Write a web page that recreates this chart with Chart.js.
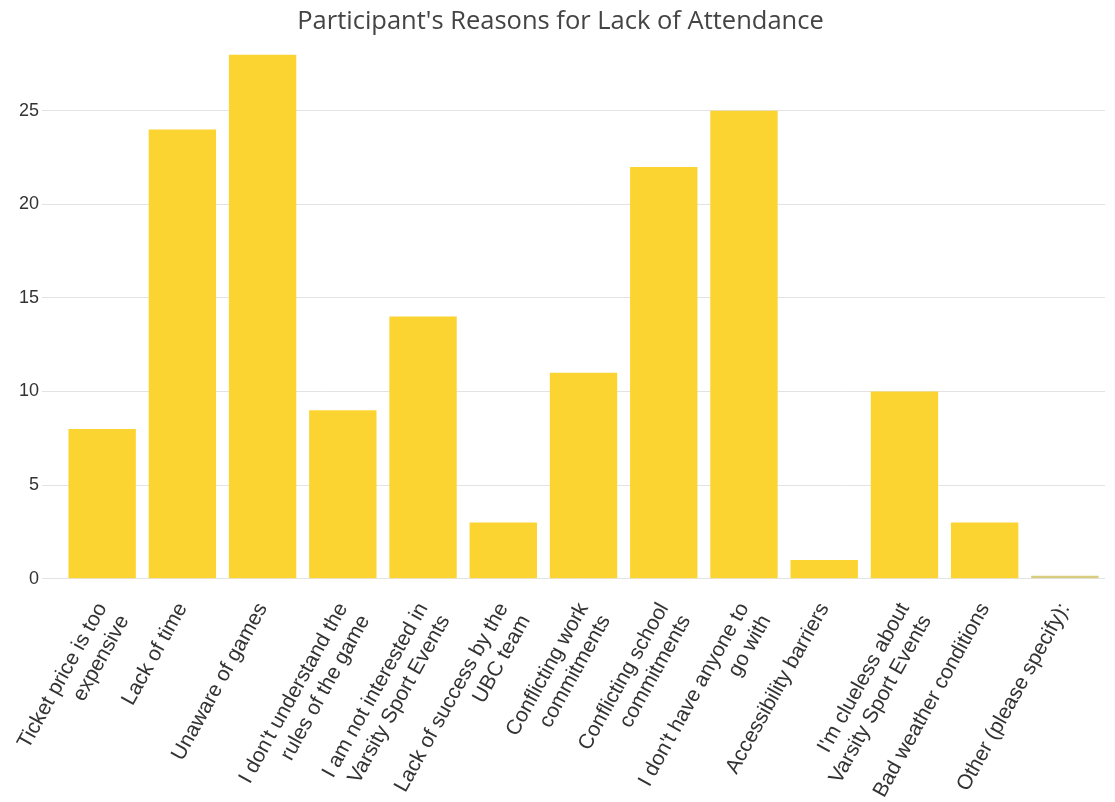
<!DOCTYPE html>
<html>
<head>
<meta charset="utf-8">
<script src="https://cdn.jsdelivr.net/npm/chart.js@4"></script>
<style>
  html, body { margin: 0; padding: 0; background: #ffffff; }
  #wrap { width: 1115px; height: 802px; }
</style>
</head>
<body>
<div id="wrap"><canvas id="c" width="1115" height="802"></canvas></div>
<script>
const chartTitle = "Participant's Reasons for Lack of Attendance";
const categories = [
  ["Ticket price is too", "expensive"],
  ["Lack of time"],
  ["Unaware of games"],
  ["I don't understand the", "rules of the game"],
  ["I am not interested in", "Varsity Sport Events"],
  ["Lack of success by the", "UBC team"],
  ["Conflicting work", "commitments"],
  ["Conflicting school", "commitments"],
  ["I don't have anyone to", "go with"],
  ["Accessibility barriers"],
  ["I'm clueless about", "Varsity Sport Events"],
  ["Bad weather conditions"],
  ["Other (please specify):"]
];
const counts = [8, 24, 28, 9, 14, 3, 11, 22, 25, 1, 10, 3, 0];
const yTicks = [0, 5, 10, 15, 20, 25];

const barColor = '#FBD432';
const zeroColor = '#D8CC80';

new Chart(document.getElementById('c'), {
  type: 'bar',
  data: {
    labels: categories,
    datasets: [{
      data: counts,
      backgroundColor: counts.map(v => v === 0 ? zeroColor : barColor),
      borderWidth: 0,
      minBarLength: 3,
      barPercentage: 0.84,
      categoryPercentage: 1.0
    }]
  },
  options: {
    responsive: false,
    animation: false,
    devicePixelRatio: 1,
    layout: { padding: { top: 0, right: 10, bottom: -24, left: 16 } },
    plugins: {
      legend: { display: false },
      tooltip: { enabled: false },
      title: {
        display: true,
        text: chartTitle,
        color: '#444444',
        font: { family: 'Open Sans', size: 25.5, weight: 'normal' },
        padding: { top: 6, bottom: 18 }
      }
    },
    scales: {
      x: {
        grid: { display: false },
        border: { display: false },
        ticks: {
          color: '#333333',
          font: { family: 'Liberation Sans', size: 21 },
          minRotation: 61,
          maxRotation: 61,
          autoSkip: false,
          padding: 12
        }
      },
      y: {
        min: 0,
        max: 28,
        afterBuildTicks: (axis) => { axis.ticks = yTicks.map(v => ({ value: v })); },
        grid: { color: '#E3E3E3', lineWidth: 1, tickLength: 20 },
        border: { display: false },
        ticks: {
          color: '#333333',
          font: { family: 'Liberation Sans', size: 18 },
          padding: 3
        }
      }
    }
  }
});
</script>
</body>
</html>
